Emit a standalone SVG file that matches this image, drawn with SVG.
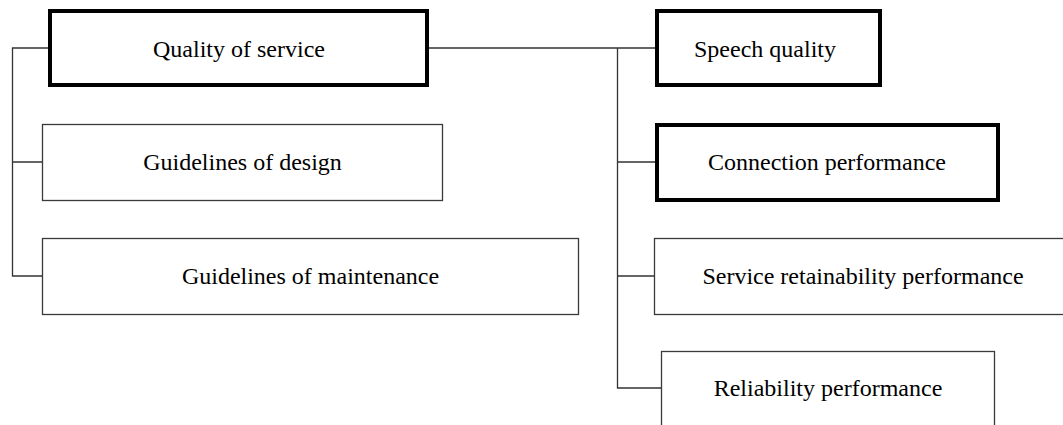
<svg xmlns="http://www.w3.org/2000/svg" width="1063" height="425" viewBox="0 0 1063 425">
<style>
.thick{fill:#fff;stroke:#000;stroke-width:4}
.thin{fill:#fff;stroke:#3a3a3a;stroke-width:1.3}
.lbl{font-family:"Liberation Serif","Times New Roman",serif;font-size:24px;fill:#000;text-anchor:middle}
.con{fill:none;stroke:#333;stroke-width:1.3}
</style>
<rect width="1063" height="425" fill="#fff"/>
<g id="connectors">
<path class="con" d="M48 48H12.5V276H42M12.5 162H42"/>
<path class="con" d="M429 48H655M617.5 48V388H662M617.5 162H655M617.5 276H654"/>
</g>
<g id="qos"><rect class="thick" x="50" y="11" width="377" height="74"/><text class="lbl" x="239" y="57">Quality of service</text></g>
<g id="design"><rect class="thin" x="42.5" y="124.5" width="400" height="76"/><text class="lbl" x="242.5" y="170">Guidelines of design</text></g>
<g id="maintenance"><rect class="thin" x="42.5" y="238.5" width="536" height="76"/><text class="lbl" x="310.5" y="284">Guidelines of maintenance</text></g>
<g id="speech"><rect class="thick" x="657" y="11" width="223" height="74"/><text class="lbl" x="765" y="57">Speech quality</text></g>
<g id="connection"><rect class="thick" x="657" y="125" width="341" height="75"/><text class="lbl" x="827" y="170">Connection performance</text></g>
<g id="retainability"><rect class="thin" x="654.5" y="238.5" width="412" height="76"/><text class="lbl" x="863" y="284">Service retainability performance</text></g>
<g id="reliability"><rect class="thin" x="661.5" y="351.5" width="333" height="80"/><text class="lbl" x="828" y="396">Reliability performance</text></g>
</svg>
